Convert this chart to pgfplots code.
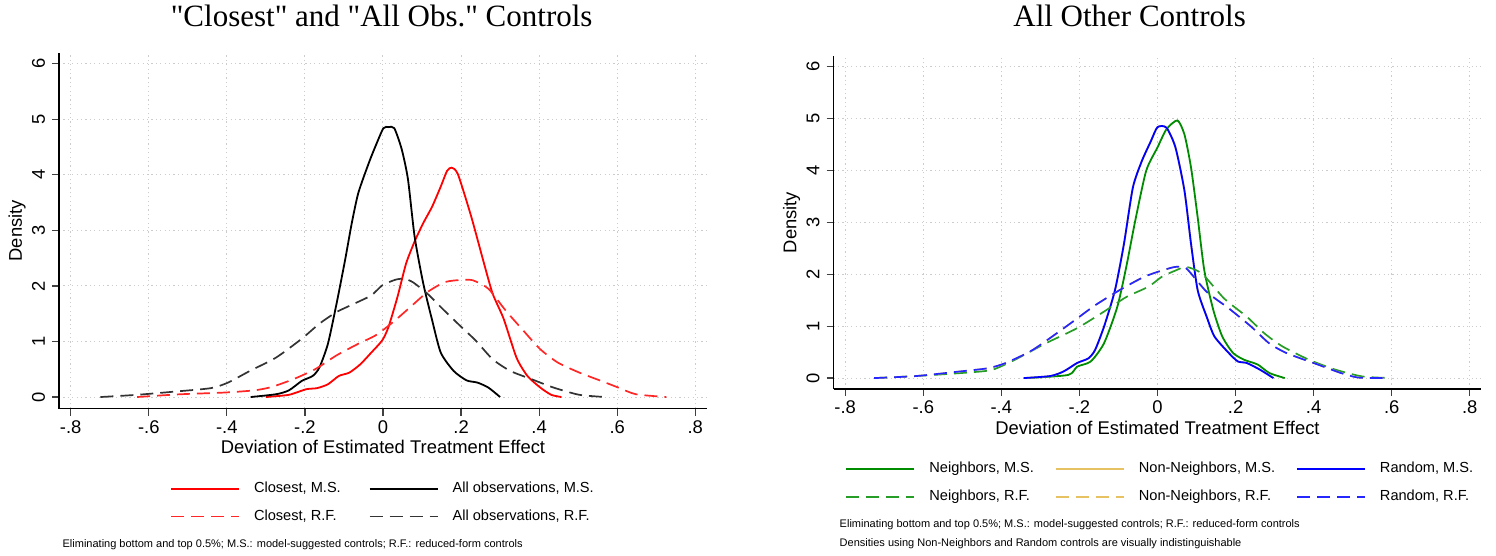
\documentclass[border=0pt]{standalone}
\usepackage{pgfplots}
\pgfplotsset{compat=1.18}
\usepackage{fontspec}
\setmainfont{Liberation Sans}
\newfontfamily\titlefont{Liberation Serif}

\definecolor{stgreen}{RGB}{0,140,0}
\definecolor{stgold}{RGB}{231,194,99}
\definecolor{stblue}{RGB}{0,0,255}
\definecolor{stred}{RGB}{255,0,0}

\pgfplotsset{
  kd/.style={
    scale only axis, width=324pt, clip mode=individual,
    xmin=-0.83, xmax=0.83, ymin=-0.21, ymax=6.2,
    axis lines*=left, axis line style={line width=0.6pt, -},
    xtick={-0.8,-0.6,-0.4,-0.2,0,0.2,0.4,0.6,0.8},
    xticklabels={-.8,-.6,-.4,-.2,0,.2,.4,.6,.8},
    ytick={0,1,2,3,4,5,6}, yticklabels={0,1,2,3,4,5,6},
    tick align=outside, major tick length=3.5pt,
    tick style={line width=0.6pt, black!75},
    grid=major,
    major grid style={gray!40, line width=0.5pt, dash pattern=on 0.6pt off 1.6pt},
    ticklabel style={font=\fontsize{9.2}{11}\selectfont},
    xticklabel style={yshift=1pt},
    yticklabel style={rotate=90, anchor=south},
    label style={font=\fontsize{9.2}{11}\selectfont},
    xlabel={Deviation of Estimated Treatment Effect},
    ylabel={Density},
    ylabel style={at={(axis description cs:-0.0648,0.5)}, anchor=center},
    legend image code/.code={\draw[#1] (0pt,0pt) -- (34pt,0pt);},
    legend cell align=left,
    legend style={draw=none, fill=none, inner sep=0pt, row sep=3pt,
      font=\fontsize{7.3}{8.5}\selectfont,
      /tikz/every odd column/.append style={column sep=5pt}},
    every axis title shift=0pt,
    title style={anchor=center, font=\titlefont\fontsize{15.5}{18}\selectfont},
    ms/.style={line width=0.9pt, smooth, tension=0.4},
    rf/.style={line width=0.85pt, smooth, tension=0.4, dash pattern=on 6.5pt off 3.5pt},
  }
}

\begin{document}
\begin{tikzpicture}
\useasboundingbox (0,0) rectangle (748pt,278pt);

\begin{axis}[kd, height=178pt,
  at={(29.5pt,73.65pt)}, anchor=south west,
  title={"Closest" and "All Obs." Controls},
  title style={at={(axis description cs:0.498,1.103)}},
  xlabel style={at={(axis description cs:0.5,-0.107)}, anchor=center},
  legend columns=2,
  legend style={at={(axis description cs:0.171,-0.194)}, anchor=north west,
    /tikz/every even column/.append style={column sep=12pt}},
]
\addplot[ms, stred] coordinates {
(-0.300,0) (-0.241,0.04) (-0.197,0.14) (-0.169,0.16) (-0.141,0.23) (-0.113,0.38)
(-0.086,0.44) (-0.058,0.59) (-0.030,0.80) (-0.002,1.02) (0.014,1.26) (0.037,1.80)
(0.059,2.40) (0.081,2.80) (0.103,3.13) (0.126,3.43) (0.148,3.79) (0.164,4.07)
(0.176,4.13) (0.192,4.01) (0.226,3.25) (0.259,2.40) (0.281,1.86) (0.309,1.41)
(0.342,0.71) (0.370,0.38) (0.403,0.17) (0.431,0.04) (0.457,0)
};
\addlegendentry{Closest, M.S.}
\addplot[ms, black] coordinates {
(-0.339,0) (-0.274,0.05) (-0.241,0.12) (-0.208,0.29) (-0.180,0.38) (-0.163,0.53)
(-0.141,0.96) (-0.119,1.68) (-0.097,2.47) (-0.080,3.13) (-0.063,3.68) (-0.036,4.22)
(-0.019,4.52) (0.001,4.84) (0.014,4.86) (0.029,4.84) (0.048,4.46) (0.064,3.92)
(0.081,2.89) (0.103,2.05) (0.126,1.38) (0.148,0.80) (0.181,0.47) (0.214,0.30)
(0.242,0.26) (0.270,0.17) (0.300,0)
};
\addlegendentry{All observations, M.S.}
\addplot[rf, stred!85] coordinates {
(-0.630,0) (-0.519,0.05) (-0.408,0.08) (-0.330,0.12) (-0.286,0.18) (-0.230,0.32)
(-0.174,0.50) (-0.119,0.75) (-0.063,0.96) (-0.019,1.11) (0.026,1.35) (0.070,1.62)
(0.114,1.89) (0.159,2.07) (0.203,2.11) (0.231,2.10) (0.270,1.95) (0.314,1.56)
(0.359,1.20) (0.403,0.86) (0.448,0.62) (0.503,0.44) (0.559,0.29) (0.603,0.17)
(0.648,0.05) (0.726,0)
};
\addlegendentry{Closest, R.F.}
\addplot[rf, black!80] coordinates {
(-0.724,0) (-0.630,0.04) (-0.530,0.10) (-0.441,0.16) (-0.397,0.26) (-0.341,0.47)
(-0.274,0.71) (-0.208,1.05) (-0.163,1.32) (-0.119,1.53) (-0.074,1.68) (-0.030,1.83)
(-0.002,2.01) (0.031,2.11) (0.053,2.13) (0.076,2.07) (0.114,1.86) (0.148,1.62)
(0.192,1.32) (0.237,1.02) (0.281,0.68) (0.326,0.47) (0.381,0.32) (0.437,0.17)
(0.503,0.04) (0.570,0)
};
\addlegendentry{All observations, R.F.}
\node[anchor=west, font=\fontsize{5.5}{6.5}\selectfont, inner sep=0pt]
  at (axis description cs:0.005,-0.382)
  {Eliminating bottom and top 0.5\%; M.S.: model-suggested controls; R.F.: reduced-form controls};
\end{axis}

\begin{axis}[kd, height=166.5pt,
  at={(416.75pt,83.5pt)}, anchor=south west,
  title={All Other Controls},
  title style={at={(axis description cs:0.457,1.12)}},
  xlabel style={at={(axis description cs:0.5,-0.117)}, anchor=center},
  legend columns=3,
  legend style={at={(axis description cs:0.018,-0.207)}, anchor=north west,
    /tikz/every even column/.append style={column sep=8.5pt}},
]
\addplot[ms, stgreen] coordinates {
(-0.337,0) (-0.229,0.06) (-0.206,0.22) (-0.171,0.32) (-0.137,0.67) (-0.103,1.37)
(-0.080,2.14) (-0.057,3.03) (-0.029,3.99) (0.000,4.44) (0.023,4.79) (0.051,4.96)
(0.069,4.69) (0.086,4.05) (0.103,3.09) (0.120,2.07) (0.143,1.31) (0.166,0.80)
(0.194,0.48) (0.223,0.35) (0.257,0.26) (0.286,0.10) (0.326,0)
};
\addlegendentry{Neighbors, M.S.}
\addplot[ms, stgold] coordinates {
(-0.343,0) (-0.274,0.04) (-0.240,0.13) (-0.206,0.29) (-0.177,0.38) (-0.160,0.54)
(-0.137,0.99) (-0.109,1.69) (-0.086,2.58) (-0.063,3.67) (-0.040,4.18) (-0.017,4.56)
(0.000,4.83) (0.023,4.82) (0.046,4.44) (0.069,3.61) (0.086,2.58) (0.103,1.69)
(0.126,1.18) (0.146,0.80) (0.183,0.48) (0.206,0.32) (0.229,0.29) (0.263,0.16)
(0.297,0)
};
\addlegendentry{Non-Neighbors, M.S.}
\addplot[ms, stblue] coordinates {
(-0.343,0) (-0.274,0.04) (-0.240,0.13) (-0.206,0.29) (-0.177,0.38) (-0.160,0.54)
(-0.137,0.99) (-0.109,1.69) (-0.086,2.58) (-0.063,3.67) (-0.040,4.18) (-0.017,4.56)
(0.000,4.83) (0.023,4.82) (0.046,4.44) (0.069,3.61) (0.086,2.58) (0.103,1.69)
(0.126,1.18) (0.146,0.80) (0.183,0.48) (0.206,0.32) (0.229,0.29) (0.263,0.16)
(0.297,0)
};
\addlegendentry{Random, M.S.}
\addplot[rf, stgreen!85] coordinates {
(-0.726,0) (-0.617,0.04) (-0.480,0.11) (-0.423,0.16) (-0.366,0.35) (-0.286,0.67)
(-0.206,0.96) (-0.137,1.28) (-0.080,1.56) (-0.023,1.76) (0.011,1.95) (0.046,2.07)
(0.074,2.14) (0.114,2.01) (0.171,1.53) (0.229,1.18) (0.274,0.86) (0.320,0.61)
(0.389,0.35) (0.457,0.16) (0.526,0.03) (0.600,0)
};
\addlegendentry{Neighbors, R.F.}
\addplot[rf, stgold] coordinates {
(-0.726,0) (-0.617,0.04) (-0.503,0.13) (-0.434,0.19) (-0.389,0.29) (-0.320,0.54)
(-0.229,1.02) (-0.160,1.40) (-0.091,1.72) (-0.034,1.95) (0.011,2.07) (0.046,2.14)
(0.074,2.11) (0.126,1.66) (0.183,1.34) (0.240,0.99) (0.286,0.67) (0.331,0.48)
(0.411,0.26) (0.469,0.10) (0.514,0.01) (0.577,0)
};
\addlegendentry{Non-Neighbors, R.F.}
\addplot[rf, stblue!85] coordinates {
(-0.726,0) (-0.617,0.04) (-0.503,0.13) (-0.434,0.19) (-0.389,0.29) (-0.320,0.54)
(-0.229,1.02) (-0.160,1.40) (-0.091,1.72) (-0.034,1.95) (0.011,2.07) (0.046,2.14)
(0.074,2.11) (0.126,1.66) (0.183,1.34) (0.240,0.99) (0.286,0.67) (0.331,0.48)
(0.411,0.26) (0.469,0.10) (0.514,0.01) (0.577,0)
};
\addlegendentry{Random, R.F.}
\node[anchor=west, font=\fontsize{5.5}{6.5}\selectfont, inner sep=0pt]
  at (axis description cs:0.009,-0.408)
  {Eliminating bottom and top 0.5\%; M.S.: model-suggested controls; R.F.: reduced-form controls};
\node[anchor=west, font=\fontsize{5.5}{6.5}\selectfont, inner sep=0pt]
  at (axis description cs:0.009,-0.465)
  {Densities using Non-Neighbors and Random controls are visually indistinguishable};
\end{axis}
\end{tikzpicture}
\end{document}
